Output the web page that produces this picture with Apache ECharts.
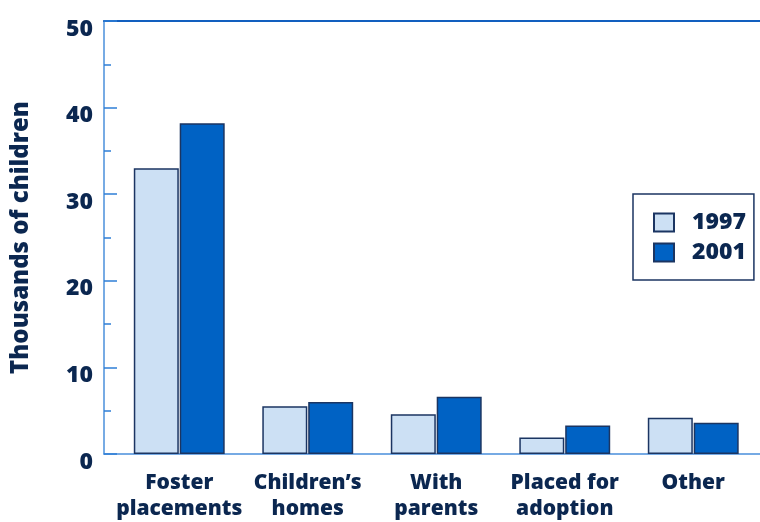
<!DOCTYPE html>
<html>
<head>
<meta charset="utf-8">
<script src="https://cdn.jsdelivr.net/npm/echarts@6/dist/echarts.min.js"></script>
<style>
  html, body { margin: 0; padding: 0; background: #fff; }
  #chart { width: 760px; height: 522px; }
</style>
</head>
<body>
<div id="chart"></div>
<script>
// Looked-after children by placement type (thousands)
const categories = ['Foster\nplacements', 'Children\u2019s\nhomes', 'With\nparents', 'Placed for\nadoption', 'Other'];
const seriesNames = ['1997', '2001'];
const values1997 = [33, 5.5, 4.6, 1.9, 4.2];
const values2001 = [38.2, 6, 6.6, 3.3, 3.6];
const yTicks = [0, 10, 20, 30, 40, 50];

const navy = '#0b2750';
const barEdge = '#1b3562';
const font = '"Open Sans", "Noto Sans", sans-serif';
const heavy = 800;

const chart = echarts.init(document.getElementById('chart'), null, { renderer: 'canvas' });

chart.setOption({
  animation: false,
  textStyle: { fontFamily: font },
  grid: [
    { left: 115, right: 2.5, top: 21, bottom: 68, containLabel: false },
    // full-width frame lines (baseline and top rule)
    { left: 104, right: 0, top: 21, bottom: 68, containLabel: false }
  ],
  legend: {
    data: seriesNames.map(n => ({ name: n, icon: 'rect' })),
    orient: 'vertical',
    left: 633,
    top: 194,
    padding: [17, 8, 16, 20],
    itemWidth: 20,
    itemHeight: 18,
    itemGap: 7,
    borderColor: barEdge,
    borderWidth: 1.5,
    textStyle: {
      fontFamily: font,
      fontSize: 23,
      fontWeight: heavy,
      color: navy,
      padding: [0, 0, 0, 13]
    }
  },
  xAxis: [
    {
      type: 'category',
      gridIndex: 0,
      data: categories,
      axisLine: { show: false },
      axisTick: { show: false },
      axisLabel: {
        interval: 0,
        margin: 16,
        fontFamily: font,
        fontSize: 21,
        fontWeight: heavy,
        color: navy,
        lineHeight: 26
      }
    },
    {
      type: 'value',
      gridIndex: 1,
      position: 'bottom',
      min: 0, max: 1,
      axisLine: { show: true, lineStyle: { color: '#4a8fdb', width: 1.5 } },
      axisTick: { show: false },
      axisLabel: { show: false },
      splitLine: { show: false }
    },
    {
      type: 'value',
      gridIndex: 1,
      position: 'top',
      min: 0, max: 1,
      axisLine: { show: true, lineStyle: { color: '#125fbf', width: 2 } },
      axisTick: { show: false },
      axisLabel: { show: false },
      splitLine: { show: false }
    }
  ],
  yAxis: [
    {
      type: 'value',
      gridIndex: 0,
      min: yTicks[0],
      max: yTicks[yTicks.length - 1],
      interval: 10,
      offset: 11,
      name: 'Thousands of children',
      nameLocation: 'middle',
      nameGap: 71,
      nameTextStyle: {
        fontFamily: font,
        fontSize: 24,
        fontWeight: heavy,
        color: navy
      },
      axisLine: { show: true, lineStyle: { color: '#4a8fdb', width: 1.5 } },
      axisTick: { show: true, inside: true, length: 13, lineStyle: { color: '#2f7fd6', width: 1.5 } },
      minorTick: { show: true, splitNumber: 2, length: 7, lineStyle: { color: '#2f7fd6', width: 1.5 } },
      splitLine: { show: false },
      axisLabel: {
        margin: 11,
        fontFamily: font,
        fontSize: 23,
        fontWeight: heavy,
        color: navy,
        verticalAlign: 'top',
        lineHeight: 16
      }
    },
    {
      type: 'value',
      gridIndex: 1,
      min: 0, max: 1,
      show: false
    }
  ],
  series: [
    {
      name: seriesNames[0],
      type: 'bar',
      xAxisIndex: 0,
      yAxisIndex: 0,
      data: values1997,
      barWidth: 45,
      barGap: '2%',
      itemStyle: { color: '#cce0f4', borderColor: barEdge, borderWidth: 1.5 }
    },
    {
      name: seriesNames[1],
      type: 'bar',
      xAxisIndex: 0,
      yAxisIndex: 0,
      data: values2001,
      barWidth: 45,
      barGap: '2%',
      itemStyle: { color: '#0062c4', borderColor: barEdge, borderWidth: 1.5 }
    }
  ]
});
</script>
</body>
</html>
